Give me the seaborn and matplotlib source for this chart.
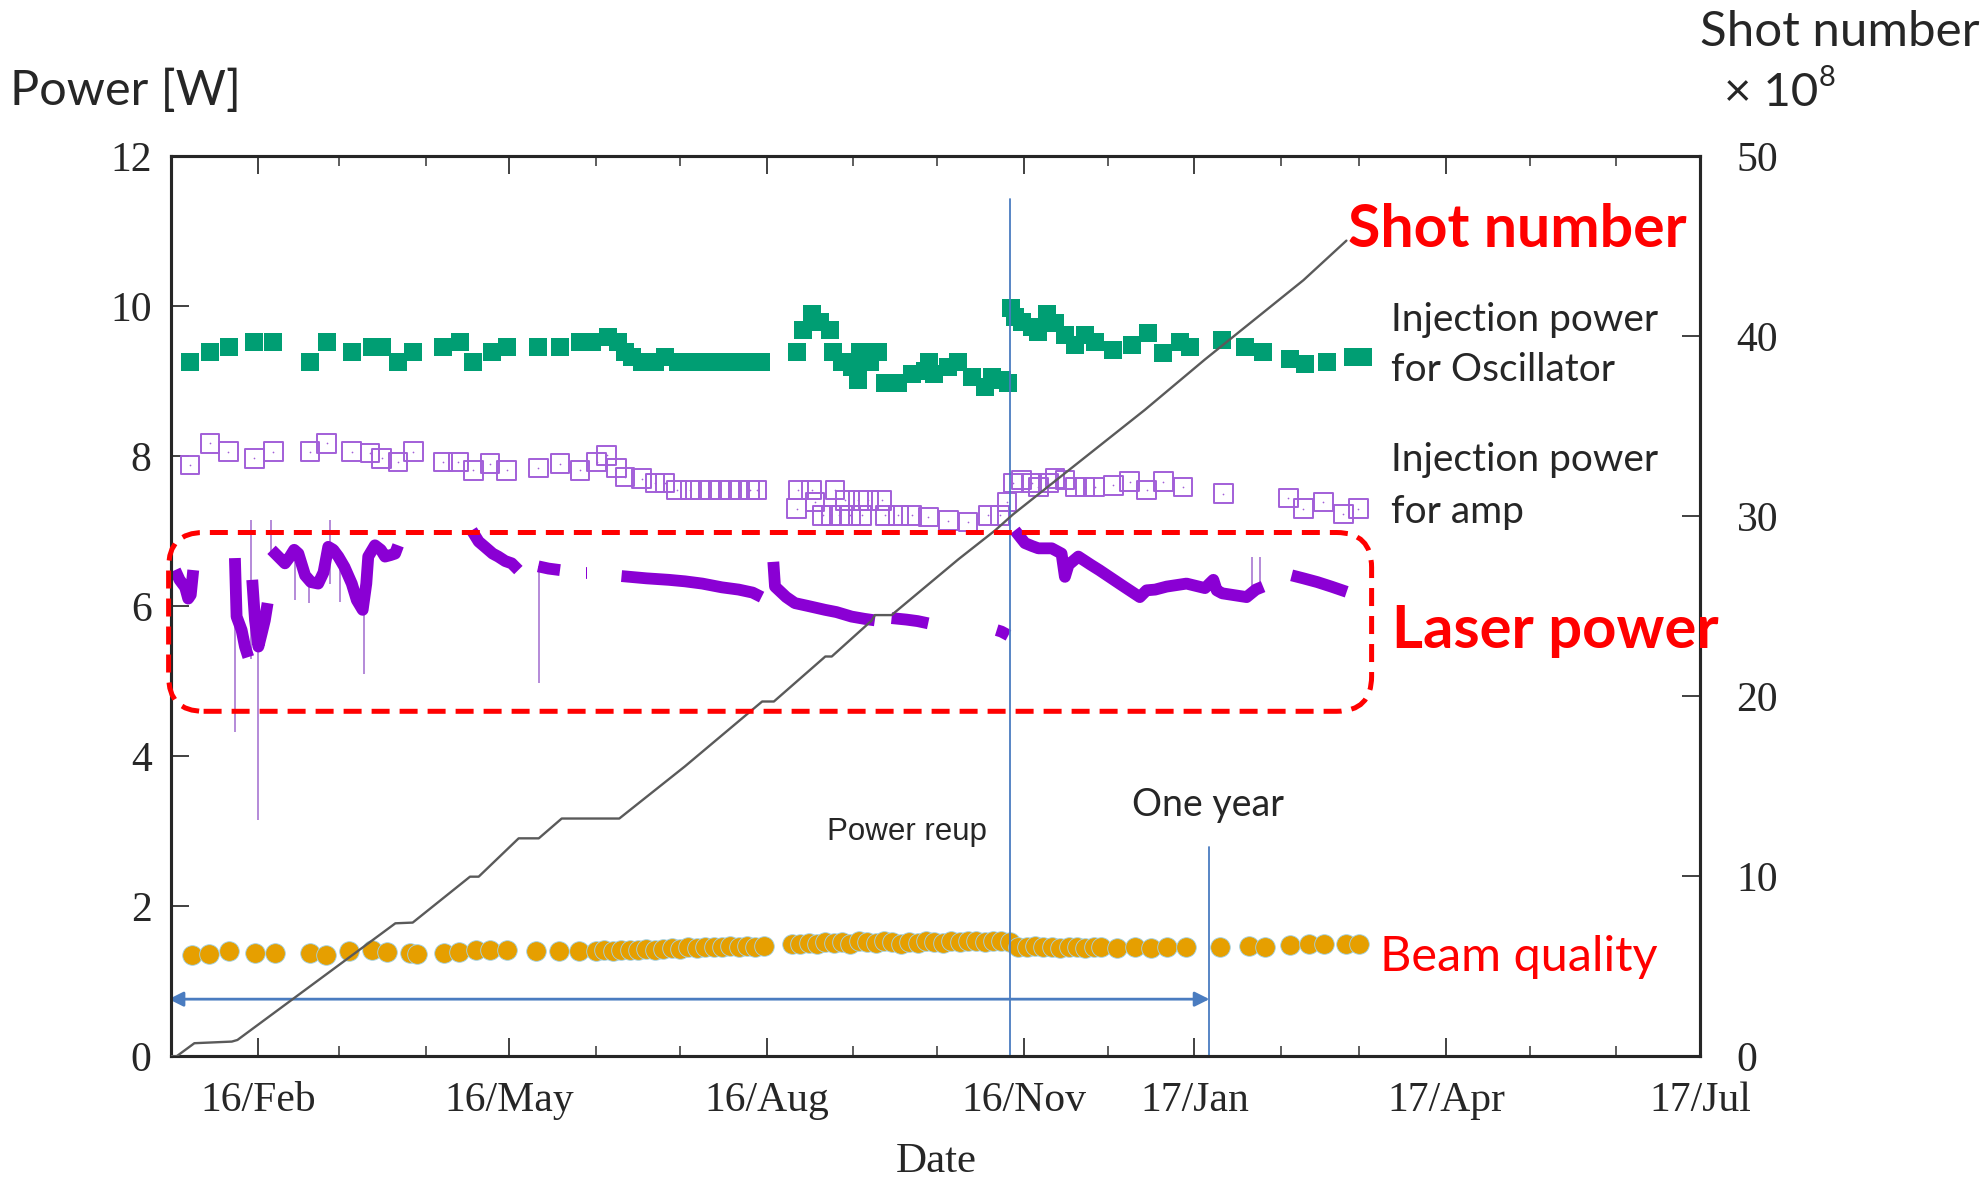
import numpy as np
import pandas as pd
import matplotlib
matplotlib.use("Agg")
import matplotlib.pyplot as plt
import matplotlib.dates as mdates
from matplotlib.ticker import FixedLocator
from matplotlib.patches import FancyBboxPatch
import seaborn as sns

START = pd.Timestamp("2016-01-01")
END = pd.Timestamp("2017-07-01")

# Injection power for oscillator (days since 2016-01-01, W)
osc_day = [6.7, 13.9, 20.7, 29.7, 36.5, 49.7, 55.9, 64.6, 71.7, 75.3, 81.2, 86.6, 97.3,
           103.3, 108.1, 114.6, 120.0, 131.3, 139.1, 146.2, 150.4, 156.4, 159.9, 162.3,
           165.0, 168.3, 173.1, 176.6, 181.4, 185.0, 189.0, 193.0, 197.0, 201.0, 205.0,
           209.0, 211.0, 223.7, 226.1, 229.1, 232.1, 235.7, 236.8, 239.8, 243.4, 245.8,
           246.4, 250.0, 253.0, 250.0, 255.3, 260.1, 264.9, 269.6, 271.0, 273.0, 278.0,
           281.6, 286.3, 291.1, 293.5, 297.1, 299.4, 300.5, 301.8, 304.2, 307.8, 310.2,
           313.2, 316.1, 319.7, 323.3, 326.9, 330.4, 337.0, 343.6, 349.5, 354.9, 360.9,
           364.4, 375.8, 384.1, 390.6, 400.2, 405.6, 413.3, 422.8, 426.4]
osc_power = [9.26, 9.39, 9.46, 9.52, 9.52, 9.26, 9.52, 9.39, 9.46, 9.46, 9.26, 9.39, 9.46,
             9.52, 9.26, 9.39, 9.46, 9.46, 9.46, 9.52, 9.52, 9.59, 9.52, 9.39,
             9.32, 9.26, 9.26, 9.32, 9.26, 9.26, 9.26, 9.26, 9.26, 9.26, 9.26,
             9.26, 9.26, 9.39, 9.68, 9.90, 9.79, 9.68, 9.39, 9.26, 9.19, 9.01,
             9.39, 9.39, 9.39, 9.26, 8.97, 8.97, 9.10, 9.14, 9.26, 9.10, 9.19,
             9.26, 9.06, 8.92, 9.06, 9.01, 8.97, 9.97, 9.86, 9.79, 9.72, 9.66,
             9.90, 9.77, 9.61, 9.48, 9.61, 9.52, 9.41, 9.48, 9.64, 9.37, 9.52,
             9.46, 9.55, 9.46, 9.39, 9.30, 9.23, 9.26, 9.32, 9.32]

# Injection power for amplifier
amp_day = [6.7, 13.9, 20.4, 29.7, 36.5, 49.7, 55.6, 64.6, 71.1, 75.3, 81.2, 86.6, 97.3,
           102.7, 108.1, 114.0, 120.0, 131.3, 139.1, 146.2, 152.2, 155.8, 159.3, 162.3,
           168.3, 173.1, 176.6, 180.8, 185.6, 189.2, 192.8, 196.3, 199.9, 203.5, 207.0,
           209.4, 223.7, 224.3, 229.1, 230.3, 233.0, 236.0, 237.4, 239.0, 241.0, 243.0,
           245.8, 247.0, 249.4, 254.1, 255.3, 260.1, 264.9, 270.8, 278.0, 285.1, 292.3,
           296.5, 299.0, 301.2, 304.2, 307.8, 310.2, 313.8, 316.1, 319.7, 323.3, 326.9,
           330.4, 337.0, 342.9, 348.9, 354.9, 362.0, 376.4, 399.6, 405.0, 412.1, 419.3, 424.7]
amp_power = [7.88, 8.17, 8.06, 7.97, 8.06, 8.06, 8.17, 8.06, 8.04, 7.97, 7.92, 8.06, 7.92,
             7.92, 7.81, 7.90, 7.81, 7.84, 7.90, 7.81, 7.92, 8.01, 7.84, 7.72,
             7.70, 7.64, 7.64, 7.55, 7.55, 7.55, 7.55, 7.55, 7.55, 7.55, 7.55,
             7.55, 7.30, 7.55, 7.55, 7.39, 7.21, 7.21, 7.55, 7.21, 7.41, 7.21,
             7.41, 7.21, 7.41, 7.41, 7.21, 7.21, 7.21, 7.19, 7.14, 7.12, 7.21,
             7.21, 7.39, 7.64, 7.68, 7.64, 7.59, 7.64, 7.70, 7.68, 7.59, 7.59,
             7.59, 7.61, 7.66, 7.55, 7.66, 7.59, 7.50, 7.44, 7.30, 7.39, 7.23, 7.30]

# Laser power, split in recorded runs
laser_seg = [0] * 6 + [1] * 5 + [2] * 6 + [3] * 25 + [4] * 8 + [5] * 3 + [6] * 2 \
    + [7] * 9 + [8] * 10 + [9] * 4 + [10] * 3 + [11] * 24 + [12] * 5
laser_day = [1.4, 3.0, 5.0, 6.1, 7.0, 7.9,
             22.8, 23.4, 25.2, 26.4, 27.6,
             29.0, 30.0, 31.2, 32.4, 33.5, 34.5,
             35.9, 38.3, 40.7, 42.5, 44.0, 45.5, 47.9, 50.0, 52.6, 54.5, 56.2, 58.0, 59.8,
             62.0, 64.6, 66.4, 68.5, 69.8, 70.5, 72.9, 75.0, 76.5, 78.5, 80.1, 81.2,
             107.5, 110.0, 112.2, 115.0, 117.0, 119.5, 121.8, 124.2,
             131.3, 135.0, 139.1,
             148.3, 148.9,
             161.1, 170.0, 178.0, 183.8, 190.0, 197.0, 203.0, 208.0, 211.2,
             215.4, 216.0, 220.0, 223.1, 228.0, 233.9, 238.0, 243.4, 248.0, 251.7,
             257.7, 263.0, 267.0, 270.8,
             295.3, 297.0, 299.5,
             301.8, 305.4, 308.0, 310.2, 315.0, 318.5, 319.7, 321.0, 324.5, 329.0, 332.0,
             340.0, 346.5, 348.9, 352.0, 356.1, 363.2, 369.8, 372.8, 374.0, 376.0, 384.7,
             388.0, 390.6,
             400.8, 405.0, 410.0, 415.0, 420.5]
laser_power = [6.48, 6.35, 6.25, 6.10, 6.15, 6.48,
               6.64, 5.86, 5.68, 5.46, 5.32,
               6.35, 5.81, 5.46, 5.64, 5.81, 6.04,
               6.75, 6.66, 6.57, 6.66, 6.75, 6.70, 6.41, 6.32, 6.30, 6.45, 6.79, 6.75, 6.66,
               6.52, 6.30, 6.08, 5.95, 6.30, 6.66, 6.81, 6.75, 6.66, 6.68, 6.70, 6.81,
               7.01, 6.86, 6.79, 6.70, 6.66, 6.60, 6.57, 6.48,
               6.53, 6.50, 6.48,
               6.44, 6.44,
               6.40, 6.37, 6.35, 6.33, 6.30, 6.25, 6.22, 6.18, 6.12,
               6.59, 6.26, 6.12, 6.04, 6.00, 5.95, 5.92, 5.86, 5.83, 5.81,
               5.84, 5.82, 5.80, 5.77,
               5.68, 5.66, 5.61,
               7.01, 6.84, 6.80, 6.77, 6.77, 6.70, 6.39, 6.55, 6.66, 6.55, 6.48,
               6.28, 6.12, 6.21, 6.22, 6.26, 6.30, 6.24, 6.35, 6.21, 6.17, 6.12,
               6.22, 6.26,
               6.41, 6.37, 6.32, 6.26, 6.19]

# Short excursions of the laser power (day, low, high)
spike_day = [23.0, 28.5, 31.0, 35.7, 44.3, 49.4, 56.8, 60.4, 69.1, 131.6, 386.5, 389.5]
spike_low = [4.32, 5.30, 3.15, 6.70, 6.08, 6.04, 6.30, 6.05, 5.10, 4.97, 6.20, 6.20]
spike_high = [6.60, 7.15, 5.60, 7.15, 6.75, 6.45, 7.15, 6.70, 6.10, 6.53, 6.66, 6.66]

# Beam quality (M^2)
bq_day = [7.3, 13.4, 20.6, 29.9, 37.1, 49.8, 55.5, 63.7, 72.0, 77.1, 85.3, 88.0, 97.6,
          102.8, 108.9, 114.1, 120.2, 130.5, 138.7, 145.9,
          152, 155, 158, 161, 164, 167, 170, 173, 176, 179, 182, 185, 188, 191, 194, 197,
          200, 203, 206, 209, 212,
          222, 225, 228, 231, 234, 237, 240, 243, 246, 249, 252, 255, 258, 261, 264, 267,
          270, 273, 276, 279, 282, 285, 288, 291, 294, 297, 300,
          303, 306, 309, 312, 315, 318, 321, 324, 327, 330,
          332.5, 338.2, 344.9, 350.6, 356.2, 363.0,
          375.3, 385.5, 391.1, 400.2, 406.9, 412.5, 420.4, 424.9]
bq_value = [1.35, 1.36, 1.40, 1.37, 1.38, 1.37, 1.35, 1.40, 1.41, 1.39, 1.38, 1.36, 1.38,
            1.39, 1.41, 1.41, 1.42, 1.40, 1.40, 1.40,
            1.40, 1.41, 1.40, 1.42, 1.41, 1.42, 1.43, 1.42, 1.43, 1.44, 1.43, 1.45, 1.44,
            1.45, 1.46, 1.45, 1.47, 1.46, 1.47, 1.45, 1.47,
            1.50, 1.49, 1.51, 1.50, 1.52, 1.51, 1.52, 1.50, 1.53, 1.52, 1.51, 1.53, 1.52,
            1.50, 1.52, 1.51, 1.53, 1.52, 1.51, 1.53, 1.52, 1.54, 1.53, 1.52, 1.54, 1.53, 1.52,
            1.46, 1.45, 1.47, 1.45, 1.46, 1.44, 1.46, 1.45, 1.44, 1.45,
            1.45, 1.44, 1.45, 1.44, 1.45, 1.45,
            1.46, 1.47, 1.46, 1.48, 1.49, 1.49, 1.50, 1.50]

# Accumulated shot number (x 1e8), right axis
shot_day = [0, 2.0, 8.3, 21.7, 23.7, 80.2, 86.4, 106.9, 110.0, 124.3, 131.5, 139.7, 160.3,
            183.8, 211.4, 215.6, 234.0, 236.3, 250.6, 251.7, 257.7, 281.6, 294.7, 301.2,
            348.3, 369.8, 405.0, 420.4]
shot_count = [0, 0, 0.72, 0.81, 0.90, 7.38, 7.42, 9.97, 9.97, 12.1, 12.1, 13.2, 13.2,
              16.1, 19.7, 19.7, 22.2, 22.2, 24.2, 24.5, 24.5, 27.6, 29.2, 30.1,
              35.9, 38.7, 43.1, 45.3]

reup_day = 300.0
one_year_day = 371.4

major_ticks = ["2016-02-01", "2016-05-01", "2016-08-01", "2016-11-01",
               "2017-01-01", "2017-04-01", "2017-07-01"]


def to_date(days):
    return START + pd.to_timedelta(np.asarray(days, dtype=float), unit="D")


GREEN = "#009e73"
VIOLET = "#a25fd8"
PURPLE = "#8a00d4"
ORANGE = "#e69f00"
BLUE = "#4a7cc0"
RED = "#ff0000"

sns.set_style("ticks")
plt.rcParams["font.family"] = ["Liberation Serif", "DejaVu Serif"]

fig = plt.figure(figsize=(19.88, 11.81), dpi=100)
ax = fig.add_axes([0.0861, 0.1057, 0.7692, 0.7622])

laser_df = pd.DataFrame({"date": to_date(laser_day), "power": laser_power, "seg": laser_seg})

ax.vlines(to_date(spike_day), spike_low, spike_high, color="#b48ad8", lw=1.4, zorder=2)
sns.lineplot(data=laser_df, x="date", y="power", units="seg", estimator=None,
             color=PURPLE, lw=8.5, ax=ax, zorder=3, solid_capstyle="butt")
sns.scatterplot(x=to_date(osc_day), y=osc_power, marker="s", s=175, color=GREEN,
                edgecolor=GREEN, linewidth=0, ax=ax, zorder=4)
sns.scatterplot(x=to_date(amp_day), y=amp_power, marker="s", s=180, facecolor="none",
                edgecolor=VIOLET, linewidth=1.4, ax=ax, zorder=4)
sns.scatterplot(x=to_date(amp_day), y=amp_power, marker=".", s=6, color=VIOLET,
                linewidth=0, ax=ax, zorder=4)
sns.scatterplot(x=to_date(bq_day), y=bq_value, marker="o", s=200, color=ORANGE,
                edgecolor="#9fd3ee", linewidth=0.6, ax=ax, zorder=4)

# annotation lines
ax.plot(to_date([reup_day, reup_day]), [0, 11.43], color=BLUE, lw=1.3, zorder=5)
ax.plot(to_date([one_year_day, one_year_day]), [0, 2.79], color=BLUE, lw=1.3, zorder=5)
ax.annotate("", xy=(mdates.date2num(to_date([-0.9])[0]), 0.76),
            xytext=(mdates.date2num(to_date([one_year_day])[0]), 0.76),
            arrowprops=dict(arrowstyle="<|-|>", color=BLUE, lw=2.0, mutation_scale=22,
                            shrinkA=0, shrinkB=0),
            annotation_clip=False, zorder=5)

ax.set_xlim(mdates.date2num(START), mdates.date2num(END))
ax.set_ylim(0, 12)
ax.set_yticks(range(0, 13, 2))
ax.xaxis.set_major_locator(FixedLocator(mdates.date2num(pd.to_datetime(major_ticks))))
ax.xaxis.set_major_formatter(mdates.DateFormatter("%y/%b"))
ax.xaxis.set_minor_locator(mdates.MonthLocator())
ax.tick_params(axis="both", which="major", direction="in", length=13, width=1.3,
               labelsize=30, top=True, right=False, color="#333333")
ax.tick_params(axis="x", which="major", pad=18)
ax.tick_params(axis="y", which="major", pad=14)
ax.tick_params(axis="x", which="minor", direction="in", length=7, width=1.1,
               top=True, color="#333333")
for sp in ax.spines.values():
    sp.set_linewidth(2.2)
    sp.set_color("black")

ax.set_xlabel("Date", fontsize=31)
ax.xaxis.set_label_coords(0.5, -0.1175)
ax.xaxis.label.set_va("center")
ax.set_ylabel("Power [W]", rotation=0, fontsize=35, family="Lato", ha="left", va="center")
ax.yaxis.set_label_coords(-0.1054, 1.0724)

ax2 = ax.twinx()
sns.lineplot(x=to_date(shot_day), y=shot_count, estimator=None, color="#5a5a5a",
             lw=1.7, ax=ax2, zorder=6)
ax2.set_ylim(0, 50)
ax2.set_yticks(range(0, 51, 10))
ax2.tick_params(axis="y", direction="in", length=13, width=1.3, labelsize=30, pad=26,
                color="#333333")
for sp in ax2.spines.values():
    sp.set_linewidth(2.2)
ax2.set_ylabel("Shot number", rotation=0, fontsize=35.5, family="Lato", ha="left",
               va="center")
ax2.yaxis.set_label_coords(0.9997, 1.138)
ax2.set_xlim(mdates.date2num(START), mdates.date2num(END))


def fx(x):
    return x / 1988


def fy(y):
    return 1 - y / 1181


fig.text(fx(1724), fy(93), "\u00d7 10", fontsize=34, family="Lato", va="center")
fig.text(fx(1819), fy(78), "8", fontsize=21, family="Lato", va="center")

fig.text(fx(1348), fy(230), "Shot number", fontsize=42.5, family="Lato",
         weight="bold", color=RED, va="center")
fig.text(fx(1391), fy(320), "Injection power", fontsize=28, family="Lato", va="center")
fig.text(fx(1391), fy(370), "for Oscillator", fontsize=28, family="Lato", va="center")
fig.text(fx(1391), fy(460), "Injection power", fontsize=28, family="Lato", va="center")
fig.text(fx(1391), fy(512), "for amp", fontsize=28, family="Lato", va="center")
fig.text(fx(1392), fy(631), "Laser power", fontsize=43, family="Lato",
         weight="bold", color=RED, va="center")
fig.text(fx(1380), fy(957), "Beam quality", fontsize=35, family="Lato",
         color=RED, va="center")
fig.text(fx(1132), fy(805), "One year", fontsize=27, family="Lato", va="center")
fig.text(fx(827), fy(832), "Power reup", fontsize=22.5, family="Liberation Sans",
         va="center")

box = FancyBboxPatch((1.686, 4.697), 12.03, 1.788,
                     boxstyle="round,pad=0,rounding_size=0.35",
                     transform=fig.dpi_scale_trans, fill=False, edgecolor=RED,
                     linewidth=3.6, linestyle=(0, (3.6, 2.0)), zorder=10)
fig.add_artist(box)

fig.savefig("out.png", dpi=100)
